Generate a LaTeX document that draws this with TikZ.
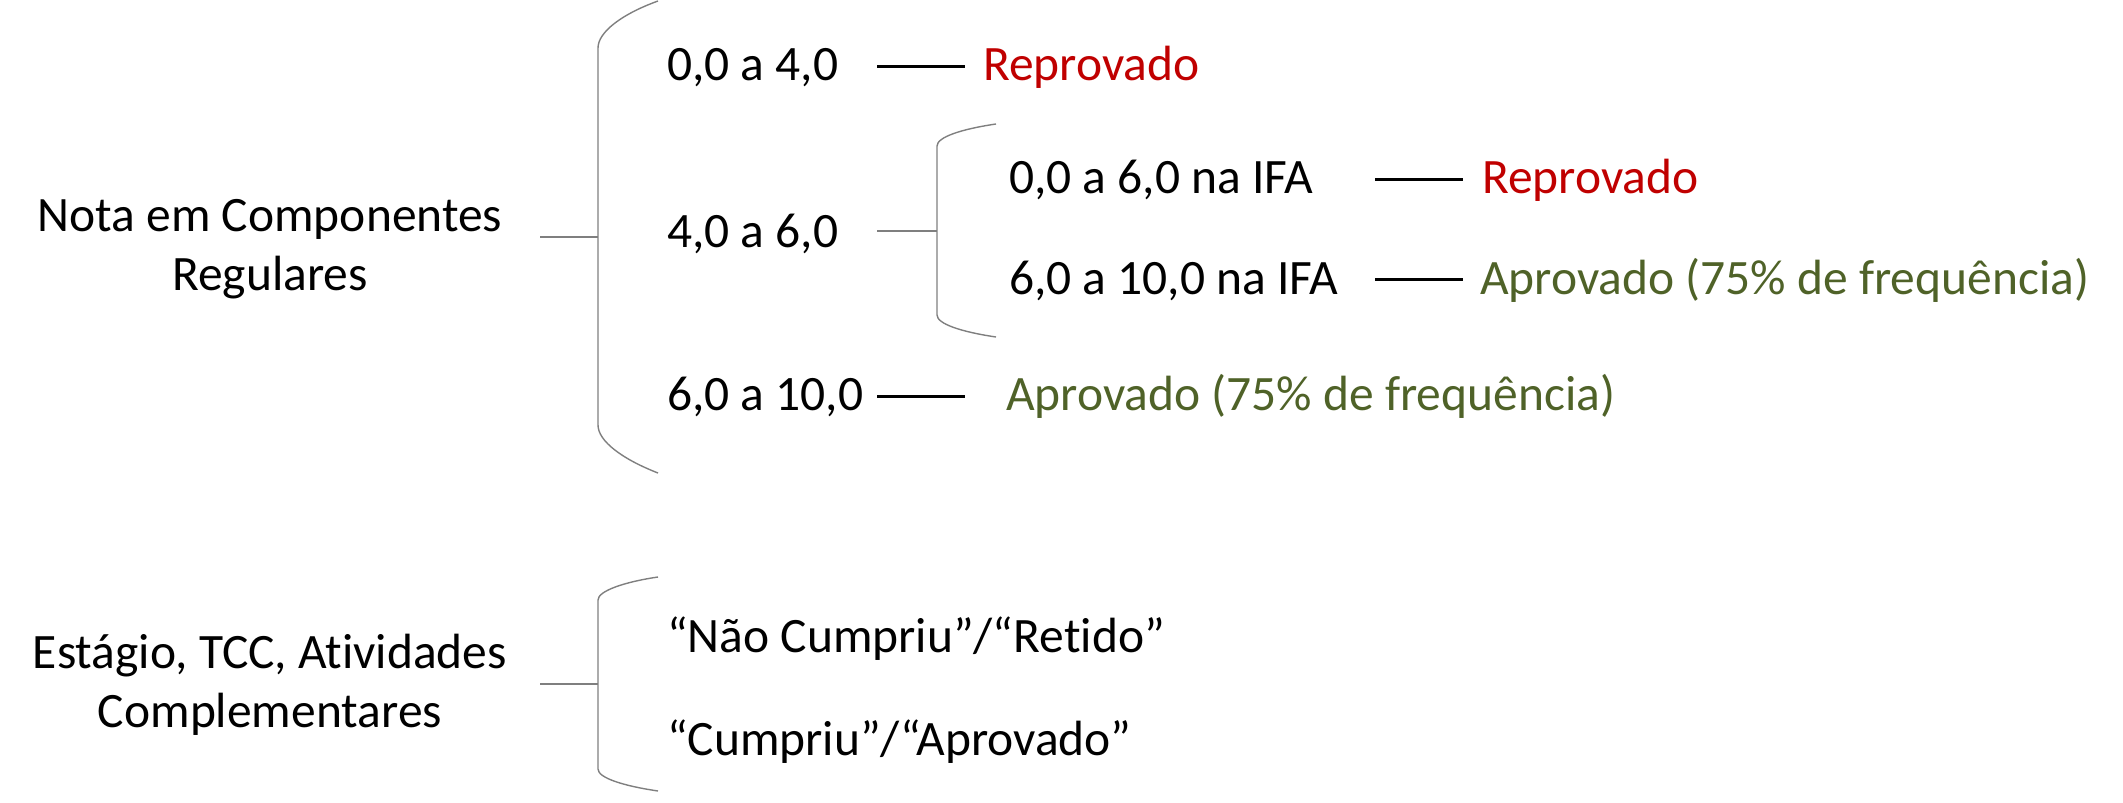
\documentclass[tikz,border=0pt]{standalone}
\usepackage{fontspec}
\setmainfont[Ligatures=NoCommon]{Carlito}
\definecolor{redtxt}{HTML}{C00000}
\definecolor{greentxt}{HTML}{4F6228}
\definecolor{bracegray}{HTML}{7F7F7F}
\begin{document}
\begin{tikzpicture}[x=1pt,y=-1pt,
  lbl/.style={inner sep=0pt,outer sep=0pt,anchor=base west,font=\fontsize{49.5}{59}\selectfont},
  ctr/.style={inner sep=0pt,outer sep=0pt,anchor=base,font=\fontsize{49.5}{59}\selectfont},
  bracel/.style={draw=bracegray,line width=1.4pt},
  stemline/.style={draw=bracegray,line width=1.6pt},
  dashline/.style={draw=black,line width=3pt}]
\useasboundingbox (0,0) rectangle (2123,803);
% left labels
\node[ctr] (nota1) at (270,231) {Nota em Componentes};
\node[ctr] (nota2) at (270,290) {Regulares};
\node[ctr] (est1) at (270,668) {Estágio, TCC, Atividades};
\node[ctr] (est2) at (270,727) {Complementares};
% first level texts
\node[lbl] (r1) at (667,80) {0,0 a 4,0};
\node[lbl,text=redtxt] (r1res) at (983,80) {Reprovado};
\node[lbl] (r2) at (667,247) {4,0 a 6,0};
\node[lbl] (r3) at (667,410) {6,0 a 10,0};
\node[lbl,text=greentxt] (r3res) at (1006,410) {Aprovado (75\% de frequência)};
% second level
\node[lbl] (s1) at (1009,193) {0,0 a 6,0 na IFA};
\node[lbl,text=redtxt] (s1res) at (1482,193) {Reprovado};
\node[lbl] (s2) at (1009,294) {6,0 a 10,0 na IFA};
\node[lbl,text=greentxt] (s2res) at (1480,294) {Aprovado (75\% de frequência)};
% bottom group
\node[lbl] (b1) at (667,652) {“Não Cumpriu”/“Retido”};
\node[lbl] (b2) at (667,755) {“Cumpriu”/“Aprovado”};
% coordinates
\coordinate (stemA) at (540,237);
\coordinate (braceA) at (598,237);
\coordinate (stemB) at (877,231);
\coordinate (braceB) at (937,231);
\coordinate (stemC) at (540,684);
\coordinate (braceC) at (598,684);
\coordinate (d1a) at (877,66);  \coordinate (d1b) at (965,66);
\coordinate (d2a) at (877,396); \coordinate (d2b) at (965,396);
\coordinate (d3a) at (1375,179); \coordinate (d3b) at (1463,179);
\coordinate (d4a) at (1375,279); \coordinate (d4b) at (1463,279);
% braces
\draw[bracel] (658,1) .. controls (622,14) and (598,32) .. (598,48)
  -- (598,425) .. controls (598,441) and (622,459) .. (658,473);
\draw[bracel] (996,124) .. controls (962,129) and (937,137) .. (937,146)
  -- (937,315) .. controls (937,324) and (962,332) .. (996,337);
\draw[bracel] (658,577) .. controls (624,582) and (598,591) .. (598,600)
  -- (598,769) .. controls (598,778) and (624,786) .. (658,791);
% stems
\draw[stemline] (stemA) -- (braceA);
\draw[stemline] (stemB) -- (braceB);
\draw[stemline] (stemC) -- (braceC);
% dashes
\draw[dashline] (d1a) -- (d1b);
\draw[dashline] (d2a) -- (d2b);
\draw[dashline] (d3a) -- (d3b);
\draw[dashline] (d4a) -- (d4b);
\end{tikzpicture}
\end{document}
